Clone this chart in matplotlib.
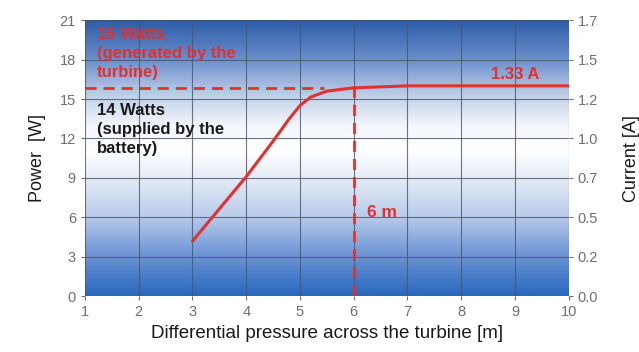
import matplotlib
matplotlib.use("Agg")
import matplotlib.pyplot as plt
import numpy as np
from matplotlib.colors import LinearSegmentedColormap

plt.rcParams["font.family"] = ["Liberation Sans", "DejaVu Sans"]

# --- Data ---
pressure = [3.0, 4.0, 4.5, 4.8, 5.0, 5.2, 5.5, 6.0, 7.0, 8.0, 9.0, 10.0]
power = [4.2, 9.1, 11.8, 13.5, 14.5, 15.15, 15.6, 15.85, 16.0, 16.0, 16.0, 16.0]
turbine_level = 15.8      # dashed "16 Watts" line
operating_point = 6.0     # dashed vertical "6 m"
power_ticks = [0, 3, 6, 9, 12, 15, 18, 21]
current_max = 1.7
x_ticks = [1, 2, 3, 4, 5, 6, 7, 8, 9, 10]

red = "#e3302e"
grey = "#6e6e6e"

fig = plt.figure(figsize=(6.39, 3.52), dpi=100)
ax = fig.add_axes([0.133, 0.158, 0.757, 0.785])

# vertical blue-white-blue gradient background
stops = [(0.0, "#2868bd"), (3 / 21, "#6a92d4"), (6 / 21, "#b8cbea"), (9 / 21, "#e6ecf7"),
         (11 / 21, "#ffffff"), (13 / 21, "#f2f5fb"), (15 / 21, "#c6d4eb"),
         (18 / 21, "#6a8ecb"), (1.0, "#2c5ca6")]
cmap = LinearSegmentedColormap.from_list("bg", stops)
grad = np.linspace(0, 1, 256).reshape(-1, 1)
ax.imshow(grad, cmap=cmap, aspect="auto", origin="lower",
          extent=[1, 10, 0, 21], zorder=0)

ax.set_xlim(1, 10)
ax.set_ylim(0, 21)
ax.set_xticks(x_ticks)
ax.set_yticks(power_ticks)
ax.grid(True, color="#475468", lw=0.8, alpha=0.8, zorder=1)
for s in ax.spines.values():
    s.set_visible(False)
ax.tick_params(colors=grey, labelsize=10.5, length=3, width=0.8)

# curve and guide lines
ax.plot(pressure, power, color=red, lw=2.2, zorder=3, solid_capstyle="round")
ax.plot([1, 5.45], [turbine_level, turbine_level], color=red, lw=2,
        ls=(0, (4, 2.5)), zorder=3)
ax.plot([operating_point, operating_point], [0, 15.9], color=red, lw=2,
        ls=(0, (4, 2.5)), zorder=3)

ax.text(1.22, 20.5, "16 Watts\n(generated by the\nturbine)", color=red,
        fontsize=12, fontweight="bold", va="top", linespacing=1.35, zorder=4)
ax.text(1.22, 14.7, "14 Watts\n(supplied by the\nbattery)", color="#1a1a1a",
        fontsize=12, fontweight="bold", va="top", linespacing=1.32, zorder=4)
ax.text(9.0, 16.9, "1.33 A", color=red, fontsize=12, fontweight="bold",
        va="center", ha="center", zorder=4)
ax.text(6.25, 6.4, "6 m", color=red, fontsize=12.5, fontweight="bold",
        va="center", zorder=4)

ax.set_xlabel("Differential pressure across the turbine [m]", fontsize=13.5,
              color="#1a1a1a", labelpad=4)
ax.set_ylabel("Power  [W]", fontsize=13, color="#1a1a1a", labelpad=10)

# right axis: current
ax2 = ax.twinx()
ax2.set_ylim(0, current_max)
cur_ticks = np.linspace(0, current_max, len(power_ticks))
ax2.set_yticks(cur_ticks)
ax2.set_yticklabels([f"{v:.1f}" for v in cur_ticks])
for s in ax2.spines.values():
    s.set_visible(False)
ax2.tick_params(colors=grey, labelsize=10.5, length=3, width=0.8)
ax2.set_ylabel("Current [A]", fontsize=13, color="#1a1a1a", labelpad=18)

fig.savefig("out.png", dpi=100, facecolor="white")
